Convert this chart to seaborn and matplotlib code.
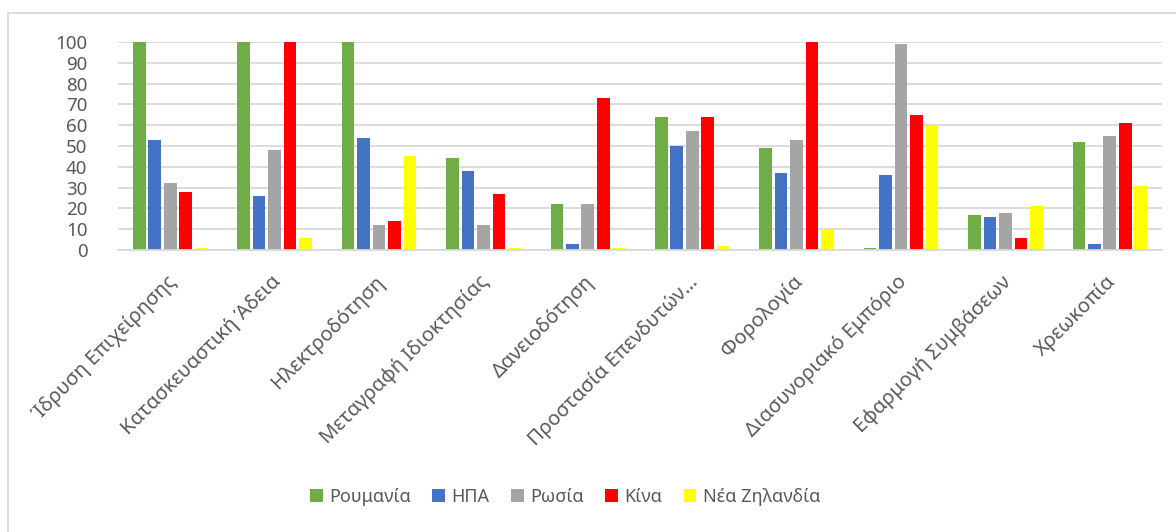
import matplotlib
matplotlib.use("Agg")
import matplotlib.pyplot as plt
import matplotlib.transforms as mtransforms
import seaborn as sns
import pandas as pd
from matplotlib.patches import Rectangle

categories = ["Ίδρυση Επιχείρησης", "Κατασκευαστική Άδεια", "Ηλεκτροδότηση",
              "Μεταγραφή Ιδιοκτησίας", "Δανειοδότηση", "Προστασία Επενδυτών…",
              "Φορολογία", "Διασυνοριακό Εμπόριο", "Εφαρμογή Συμβάσεων", "Χρεωκοπία"]
series = ["Ρουμανία", "ΗΠΑ", "Ρωσία", "Κίνα", "Νέα Ζηλανδία"]
romania = [100, 100, 100, 44, 22, 64, 49, 1, 17, 52]
usa = [53, 26, 54, 38, 3, 50, 37, 36, 16, 3]
russia = [32, 48, 12, 12, 22, 57, 53, 99, 18, 55]
china = [28, 100, 14, 27, 73, 64, 100, 65, 6, 61]
new_zealand = [1, 6, 45, 1, 1, 2, 10, 60, 21, 31]
colors = ["#70AD47", "#4472C4", "#A5A5A5", "#FF0000", "#FFFF00"]

rows = []
for s, vals in zip(series, [romania, usa, russia, china, new_zealand]):
    for c, v in zip(categories, vals):
        rows.append({"cat": c, "series": s, "value": v})
df = pd.DataFrame(rows)

sns.set_theme(style="white")
plt.rcParams["font.family"] = ["Noto Sans", "DejaVu Sans"]

fig = plt.figure(figsize=(11.76, 5.32), dpi=100)
ax = fig.add_axes([118/1176, 1-250/532, (1162-118)/1176, (250-42)/532])

sns.barplot(data=df, x="cat", y="value", hue="series", order=categories,
            hue_order=series, palette=colors, width=0.74, gap=0.18,
            saturation=1, ax=ax, errorbar=None, legend=True, linewidth=0)

ax.set_ylim(0, 100)
ax.set_xlim(-0.5, len(categories) - 0.5)
ax.set_yticks(range(0, 101, 10))
ax.yaxis.grid(True, color="#d9d9d9", linewidth=1.3)
ax.set_axisbelow(True)
for sp in ["top", "right", "left"]:
    ax.spines[sp].set_visible(False)
ax.spines["bottom"].set_color("#d9d9d9")
ax.spines["bottom"].set_linewidth(1.3)
ax.set_xlabel("")
ax.set_ylabel("")
ax.tick_params(axis="y", labelsize=13.5, labelcolor="#595959", length=0, pad=22)
ax.tick_params(axis="x", labelsize=14.5, labelcolor="#595959", length=0, pad=21)
shift = mtransforms.ScaledTranslation(3/100, 0, fig.dpi_scale_trans)
for lbl in ax.get_xticklabels():
    lbl.set_rotation(45)
    lbl.set_ha("right")
    lbl.set_va("center")
    lbl.set_rotation_mode("anchor")
    lbl.set_transform(lbl.get_transform() + shift)
for p in ax.patches:
    p.set_clip_on(False)

handles, labels = ax.get_legend_handles_labels()
ax.get_legend().remove()
fig.legend(handles, labels, loc="center", bbox_to_anchor=(565/1176, 1-497/532),
           ncol=5, frameon=False, fontsize=13, labelcolor="#595959",
           handlelength=0.7, handleheight=0.7, handletextpad=0.35, columnspacing=1.2)

fig.patches.append(Rectangle((8/1176, -0.1), 1.2, 1-13/532+0.1, transform=fig.transFigure,
                             fill=False, edgecolor="#d9d9d9", linewidth=1.3))

fig.savefig("out.png", dpi=100, facecolor="white")
